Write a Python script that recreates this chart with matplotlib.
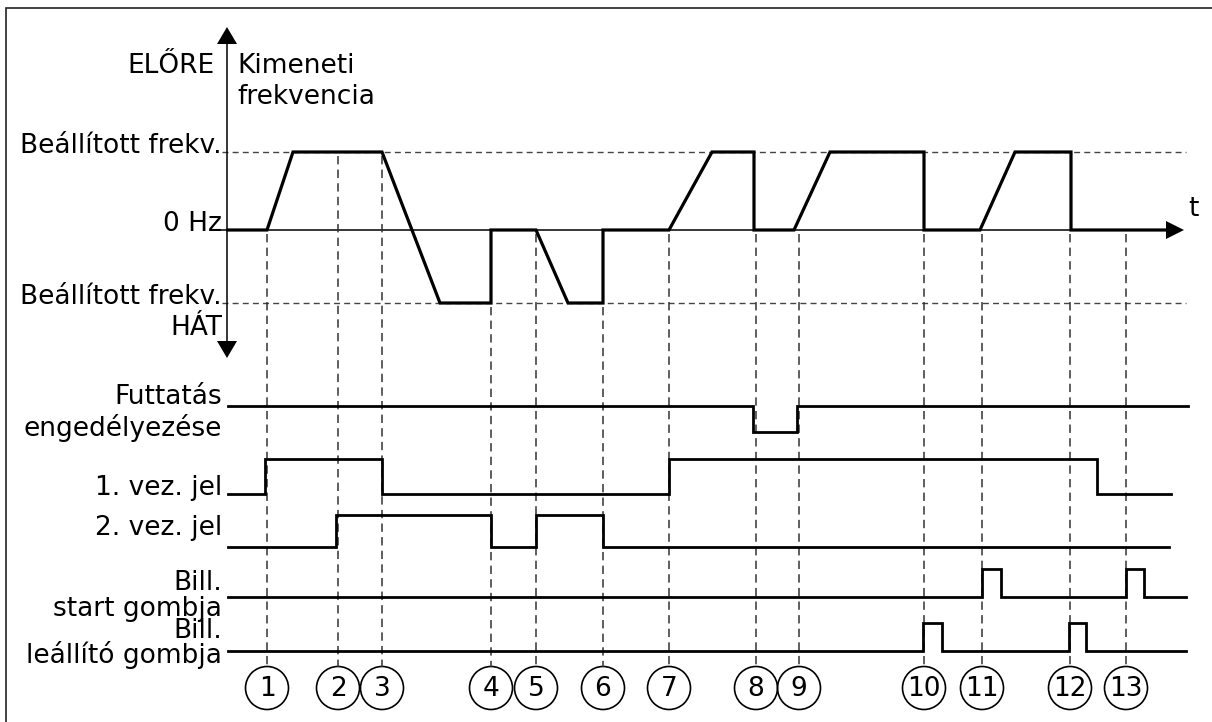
import numpy as np
import matplotlib
matplotlib.use('Agg')
import matplotlib.pyplot as plt
from matplotlib.patches import Circle, Polygon

plt.rcParams['lines.scale_dashes'] = False
plt.rcParams['font.family'] = ['DejaVu Sans']

# ---------------- data ----------------
event_labels = [str(i) for i in range(1, 14)]
event_times = [267, 338, 382, 491, 536, 603, 669, 756, 799, 924, 982, 1070, 1126]
# frequency level where each event's guide line starts (1 = +set, 0 = 0 Hz, -1 = -set)
event_line_levels = [0, 1, 1, -1, 0, -1, 0, 0, 0, 0, 0, 0, 0]

freq_times = [228, 267, 293, 382, 440, 491, 491, 536, 568, 603, 603, 669, 712,
              754, 754, 794, 830, 924, 924, 980, 1015, 1071, 1071, 1167]
freq_levels = [0, 0, 1, 1, -1, -1, 0, 0, -1, -1, 0, 0, 1,
               1, 0, 0, 1, 1, 0, 0, 1, 1, 0, 0]

enable_times = [228, 753, 753, 797, 797, 1188]
enable_levels = [1, 1, 0, 0, 1, 1]
cmd1_times = [228, 265, 265, 382, 382, 669, 669, 1097, 1097, 1171]
cmd1_levels = [0, 0, 1, 1, 0, 0, 1, 1, 0, 0]
cmd2_times = [228, 336, 336, 491, 491, 536, 536, 603, 603, 1169]
cmd2_levels = [0, 0, 1, 1, 0, 0, 1, 1, 0, 0]
start_times = [228, 982, 982, 1001, 1001, 1126, 1126, 1144, 1144, 1186]
start_levels = [0, 0, 1, 1, 0, 0, 1, 1, 0, 0]
stop_times = [228, 923, 923, 942, 942, 1069, 1069, 1086, 1086, 1186]
stop_levels = [0, 0, 1, 1, 0, 0, 1, 1, 0, 0]

freq_axis_top = 'ELŐRE'
freq_axis_bottom = 'HÁT'
freq_title = ['Kimeneti', 'frekvencia']
freq_level_names = ['Beállított frekv.', '0 Hz', 'Beállított frekv.']
time_label = 't'
signal_label_lines = [['Futtatás', 'engedélyezése'],
                      ['1. vez. jel'],
                      ['2. vez. jel'],
                      ['Bill.', 'start gombja'],
                      ['Bill.', 'leállító gombja']]

# ---------------- layout ----------------
W, H = 1212, 722
fig = plt.figure(figsize=(W / 100, H / 100), dpi=100)
ax = fig.add_axes([0, 0, 1, 1])
ax.set_xlim(0, W)
ax.set_ylim(H, 0)
ax.axis('off')

FS = 19
TXT_R = 222
axis_x = 227
y_pos, y_zero, y_neg = 152, 230, 303


def fy(v):
    return np.interp(v, [-1, 0, 1], [y_neg, y_zero, y_pos])


# frame (left and top edges visible)
ax.plot([6, 6, W + 5], [H + 5, 8, 8], color='#222222', lw=1.2,
        solid_joinstyle='miter', clip_on=False)

# set-frequency dashed lines
for yy in (y_pos, y_neg):
    ax.plot([222, 1186], [yy, yy], color='#444444', lw=1.0,
            linestyle=(0, (4.3, 3.0)))

# 0 Hz thin line
ax.plot([220, 1168], [y_zero, y_zero], color='black', lw=1.1)

# vertical axis with arrows
ax.plot([axis_x, axis_x], [40, 345], color='black', lw=1.1)
ax.add_patch(Polygon([[axis_x, 27], [axis_x - 10, 44], [axis_x + 10, 44]],
                     closed=True, fc='black', ec='none'))
ax.add_patch(Polygon([[axis_x, 358], [axis_x - 10, 341], [axis_x + 10, 341]],
                     closed=True, fc='black', ec='none'))
# time arrow
ax.add_patch(Polygon([[1184, y_zero], [1166, y_zero - 9], [1166, y_zero + 9]],
                     closed=True, fc='black', ec='none'))

# event guide lines and circles
circ_y, circ_r = 688, 21.5
for t, lab, lev in zip(event_times, event_labels, event_line_levels):
    ax.plot([t, t], [fy(lev) + 4, circ_y - circ_r], color='#333333', lw=1.1,
            linestyle=(0, (6.0, 3.8)))
    ax.add_patch(Circle((t, circ_y), circ_r, fill=False, ec='black', lw=1.2))
    ax.text(t, circ_y + 1, lab, ha='center', va='center', fontsize=FS)

# frequency trace
ax.plot(freq_times, fy(np.array(freq_levels)), color='black', lw=2.3,
        solid_joinstyle='miter')

# digital signals
rows = [(enable_times, enable_levels, 432, 406),
        (cmd1_times, cmd1_levels, 494, 459),
        (cmd2_times, cmd2_levels, 547, 515),
        (start_times, start_levels, 597, 569),
        (stop_times, stop_levels, 651, 623)]
for tt, lv, ylo, yhi in rows:
    ys = ylo + (yhi - ylo) * np.array(lv)
    ax.plot(tt, ys, color='black', lw=2.0, solid_joinstyle='miter')

# texts
ax.text(215, 73, freq_axis_top, ha='right', va='baseline', fontsize=FS)
ax.text(237, 73, freq_title[0], ha='left', va='baseline', fontsize=FS)
ax.text(237, 104, freq_title[1], ha='left', va='baseline', fontsize=FS)
for name, yy in zip(freq_level_names, [y_pos + 1, y_zero + 1, y_neg + 1]):
    ax.text(TXT_R, yy, name, ha='right', va='baseline', fontsize=FS)
ax.text(TXT_R, 335, freq_axis_bottom, ha='right', va='baseline', fontsize=FS)
ax.text(1193, 216, time_label, ha='center', va='baseline', fontsize=FS)

label_baselines = [[404, 436], [495], [535], [590, 616], [638, 663]]
for lines, bases in zip(signal_label_lines, label_baselines):
    for s, b in zip(lines, bases):
        ax.text(TXT_R, b, s, ha='right', va='baseline', fontsize=FS)

fig.savefig('out.png', dpi=100)
